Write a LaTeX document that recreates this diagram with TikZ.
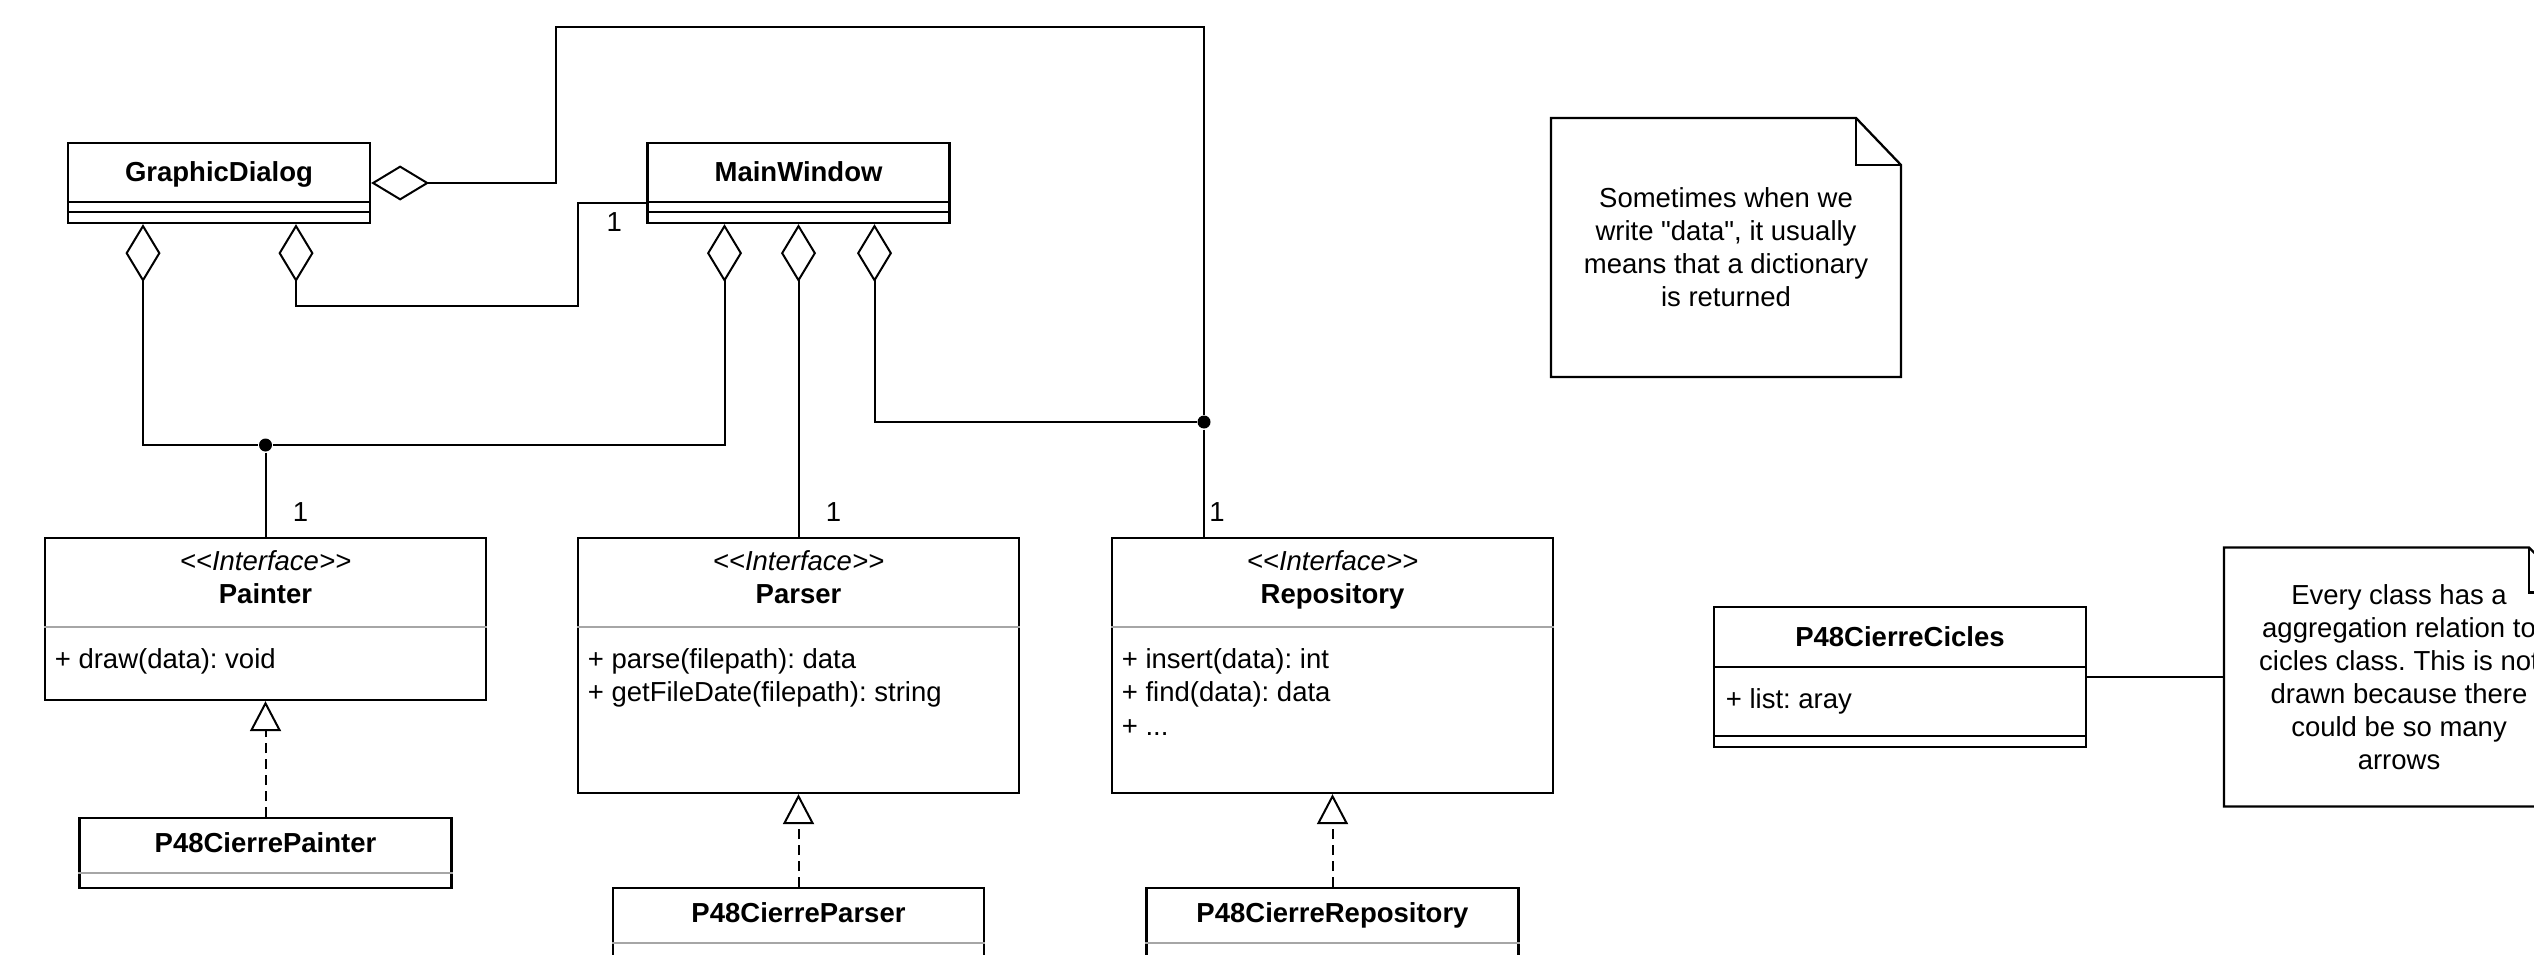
\documentclass[tikz,border=0pt]{standalone}
\usepackage{fontspec}
\newfontfamily\umlfont{Liberation Sans}
\newcommand\umlsize{\umlfont\fontsize{27.5}{33}\selectfont\frenchspacing}
\usetikzlibrary{arrows.meta,positioning}

\begin{document}
\begin{tikzpicture}[x=1pt,y=-1pt,line width=2pt,
                    aggr/.style={{Diamond[open,length=58pt,width=35pt]}-},
                    real/.style={dash pattern=on 10pt off 6pt,-{Triangle[open,length=30pt,width=31pt]}},
                    box/.style={draw,line width=2.3pt,inner sep=0pt},
                    sep/.style={line width=2pt,black!35},
                    dot/.style={circle,fill,inner sep=0pt,minimum size=13pt},
                    cname/.style={font=\umlsize\bfseries,text height=20pt,text depth=0pt},
                    stereo/.style={font=\umlsize\itshape,text height=20pt,text depth=0pt},
                    member/.style={font=\umlsize,anchor=west,inner sep=0pt,text height=20pt,text depth=0pt},
                    mult/.style={font=\umlsize},
                    note/.style={font=\umlsize,align=center,inner sep=0pt,
                                 minimum width=348pt,minimum height=257pt}]
  \useasboundingbox (0,0) rectangle (2534,955);

  \node[box,minimum width=302pt,minimum height=80pt]  (gd)  at (219,183)      {};
  \node[box,minimum width=302pt,minimum height=80pt]  (mw)  at (798.5,183)    {};
  \node[box,minimum width=441pt,minimum height=162pt] (pa)  at (265.5,619)    {};
  \node[box,minimum width=441pt,minimum height=255pt] (pr)  at (798.5,665.5)  {};
  \node[box,minimum width=441pt,minimum height=255pt] (re)  at (1332.5,665.5) {};
  \node[box,minimum width=372pt,minimum height=70pt]  (ppi) [below=116pt of pa] {};
  \node[box,minimum width=371pt,minimum height=100pt] (ppr) [below=93pt of pr]  {};
  \node[box,minimum width=372pt,minimum height=100pt] (pre) [below=93pt of re]  {};
  \node[box,minimum width=372pt,minimum height=140pt] (cc)  at (1900,677)     {};

  \draw[line width=2.3pt] ([yshift=-60pt]gd.north west) -- ([yshift=-60pt]gd.north east);
  \draw[line width=2.3pt] ([yshift=-70pt]gd.north west) -- ([yshift=-70pt]gd.north east);
  \draw[line width=2.3pt] ([yshift=-60pt]mw.north west) -- ([yshift=-60pt]mw.north east);
  \draw[line width=2.3pt] ([yshift=-70pt]mw.north west) -- ([yshift=-70pt]mw.north east);
  \draw[line width=2.3pt] ([yshift=-61pt]cc.north west) -- ([yshift=-61pt]cc.north east);
  \draw[line width=2.3pt] ([yshift=-130pt]cc.north west) -- ([yshift=-130pt]cc.north east);
  \draw[sep] ([yshift=-90pt]pa.north west) -- ([yshift=-90pt]pa.north east);
  \draw[sep] ([yshift=-90pt]pr.north west) -- ([yshift=-90pt]pr.north east);
  \draw[sep] ([yshift=-90pt]re.north west) -- ([yshift=-90pt]re.north east);
  \draw[sep] ([yshift=-56pt]ppi.north west) -- ([yshift=-56pt]ppi.north east);
  \draw[sep] ([yshift=-56pt]ppr.north west) -- ([yshift=-56pt]ppr.north east);
  \draw[sep] ([yshift=-56pt]pre.north west) -- ([yshift=-56pt]pre.north east);

  \node[cname] at ([yshift=-30pt]gd.north) {GraphicDialog};
  \node[cname] at ([yshift=-30pt]mw.north) {MainWindow};

  \node[stereo] at ([yshift=-24pt]pa.north) {<<Interface>>};
  \node[cname]  at ([yshift=-57pt]pa.north) {Painter};
  \node[member] at ([xshift=10pt,yshift=-122pt]pa.north west) {+ draw(data): void};

  \node[stereo] at ([yshift=-24pt]pr.north) {<<Interface>>};
  \node[cname]  at ([yshift=-57pt]pr.north) {Parser};
  \node[member] at ([xshift=10pt,yshift=-122pt]pr.north west) {+ parse(filepath): data};
  \node[member] at ([xshift=10pt,yshift=-155pt]pr.north west) {+ getFileDate(filepath): string};

  \node[stereo] at ([yshift=-24pt]re.north) {<<Interface>>};
  \node[cname]  at ([yshift=-57pt]re.north) {Repository};
  \node[member] at ([xshift=10pt,yshift=-122pt]re.north west) {+ insert(data): int};
  \node[member] at ([xshift=10pt,yshift=-155pt]re.north west) {+ find(data): data};
  \node[member] at ([xshift=10pt,yshift=-189pt]re.north west) {+ ...};

  \node[cname] at ([yshift=-25pt]ppi.north) {P48CierrePainter};
  \node[cname] at ([yshift=-25pt]ppr.north) {P48CierreParser};
  \node[cname] at ([yshift=-25pt]pre.north) {P48CierreRepository};

  \node[cname]  at ([yshift=-31pt]cc.north) {P48CierreCicles};
  \node[member] at ([xshift=12pt,yshift=-93pt]cc.north west) {+ list: aray};

  \node[note] (n1) at (1726,247.5) {Sometimes when we\\write "data", it usually\\means that a dictionary\\is returned};
  \node[note] (n2) at (2399,677)   {Every class has a\\aggregation relation to\\cicles class. This is not\\drawn because there\\could be so many\\arrows};
  \draw[line width=2.3pt] (n1.north west) -- ([xshift=-45pt]n1.north east) -- ([yshift=-47pt]n1.north east)
        -- (n1.south east) -- (n1.south west) -- cycle;
  \draw[line width=2.3pt] ([xshift=-45pt]n1.north east) |- ([yshift=-47pt]n1.north east);
  \draw[line width=2.3pt] (n2.north west) -- ([xshift=-45pt]n2.north east) -- ([yshift=-45pt]n2.north east)
        -- (n2.south east) -- (n2.south west) -- cycle;
  \draw[line width=2.3pt] ([xshift=-45pt]n2.north east) |- ([yshift=-45pt]n2.north east);

  \node[dot] (jp) at (265.5,445) {};
  \node[dot] (jr) at (1204,422)  {};

  \draw[aggr] ([xshift=-76pt]gd.south) |- (jp);
  \draw[aggr] ([xshift=-74pt]mw.south) |- (jp);
  \draw (jp) -- (pa.north) node[mult,xshift=35pt,yshift=25pt] {1};
  \draw[aggr] ([xshift=77pt]gd.south) -- ++(0,82) -| ([xshift=-68pt,yshift=-20pt]mw.west)
        -- ([yshift=-20pt]mw.west) node[mult,xshift=-32pt,yshift=-19pt] {1};
  \draw[aggr] (mw.south) -- (pr.north) node[mult,xshift=35pt,yshift=25pt] {1};
  \draw[aggr] (gd.east) -- ++(185,0) |- (jr |- 0,27) -- (jr);
  \draw[aggr] ([xshift=76pt]mw.south) |- (jr);
  \draw (jr) -- (jr |- re.north) node[mult,xshift=13pt,yshift=25pt] {1};
  \draw (cc) -- (n2);

  \draw[real] (ppi) -- (pa);
  \draw[real] (ppr) -- (pr);
  \draw[real] (pre) -- (re);
\end{tikzpicture}
\end{document}
